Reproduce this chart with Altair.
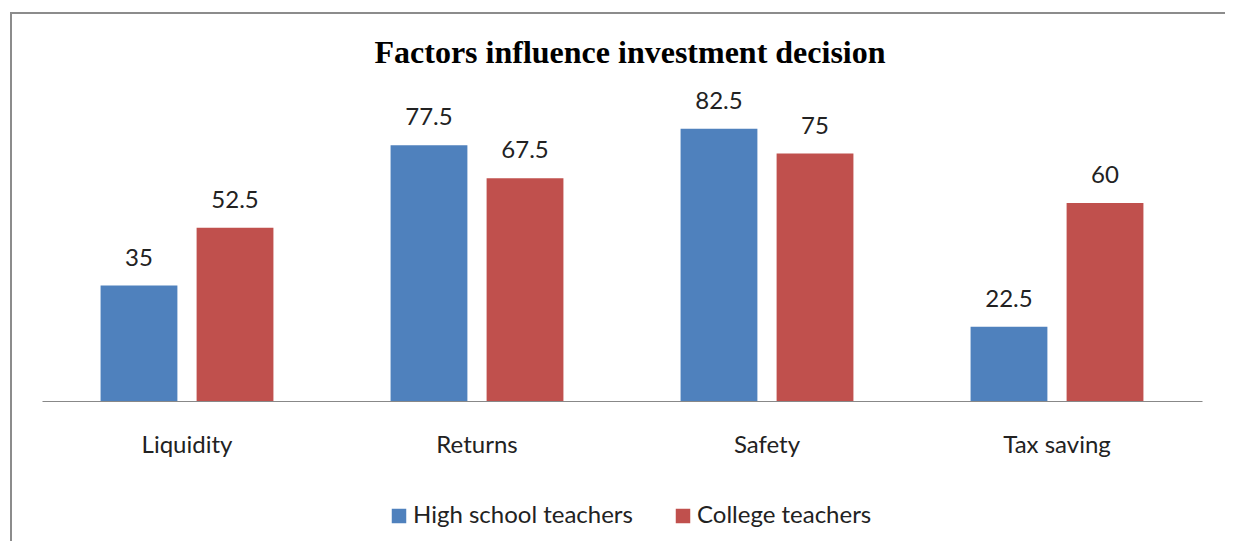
import altair as alt
import pandas as pd

categories = ["Liquidity", "Returns", "Safety", "Tax saving"]
series = ["High school teachers", "College teachers"]
high_school = [35, 77.5, 82.5, 22.5]
college = [52.5, 67.5, 75, 60]
colors = ["#4F81BD", "#C0504D"]
title_text = "Factors influence investment decision"

rows = []
for c, h, k in zip(categories, high_school, college):
    rows.append({"factor": c, "group": series[0], "value": h, "label": f"{h:g}"})
    rows.append({"factor": c, "group": series[1], "value": k, "label": f"{k:g}"})
df = pd.DataFrame(rows)

FONT = "Lato"
FS = 24

x = alt.X("factor:N", sort=categories, title=None,
          scale=alt.Scale(paddingInner=0, paddingOuter=0),
          axis=alt.Axis(labelAngle=0, labelFont=FONT, labelFontSize=FS, labelColor="#222222",
                        labelBaseline="alphabetic", labelPadding=51, ticks=False,
                        domainColor="#888888", domainWidth=1.2))
xo = alt.XOffset("group:N", sort=series,
                 scale=alt.Scale(paddingInner=0.2, paddingOuter=0.61))
y = alt.Y("value:Q", scale=alt.Scale(domain=[0, 90], nice=False), axis=None)

bars = alt.Chart(df).mark_bar().encode(
    x=x, xOffset=xo, y=y,
    color=alt.Color("group:N", sort=series, title=None,
                    scale=alt.Scale(domain=series, range=colors),
                    legend=alt.Legend(orient="none", legendX=345, legendY=400, direction="horizontal",
                                      symbolType="square", symbolSize=210, symbolStrokeWidth=0,
                                      labelFont=FONT, labelFontSize=FS, labelColor="#222222",
                                      columnPadding=38, labelOffset=2, labelLimit=400))
)

labels = alt.Chart(df).mark_text(font=FONT, fontSize=FS, color="#222222", baseline="alphabetic", dy=-20).encode(
    x=x, xOffset=xo, y=y, text="label:N"
)

border = alt.Chart(pd.DataFrame({"a": [0]})).mark_rect(fill=None, stroke="#8c8c8c", strokeWidth=2).encode(
    x=alt.value(-31), x2=alt.value(1260), y=alt.value(-91), y2=alt.value(470)
)

title = alt.Chart(pd.DataFrame({"t": [title_text]})).mark_text(
    font="Liberation Serif", fontSize=32, fontWeight="bold", color="#000000", baseline="alphabetic"
).encode(x=alt.value(588), y=alt.value(-41), text="t:N")

chart = alt.layer(border, bars, labels, title).properties(
    width=1160, height=297,
    background="white",
    autosize=alt.AutoSizeParams(type="none"),
    padding={"left": 34, "top": 96, "right": 23, "bottom": 140},
).configure_view(strokeWidth=0)

chart.save("out.html", embed_options={"renderer": "svg", "actions": False})
